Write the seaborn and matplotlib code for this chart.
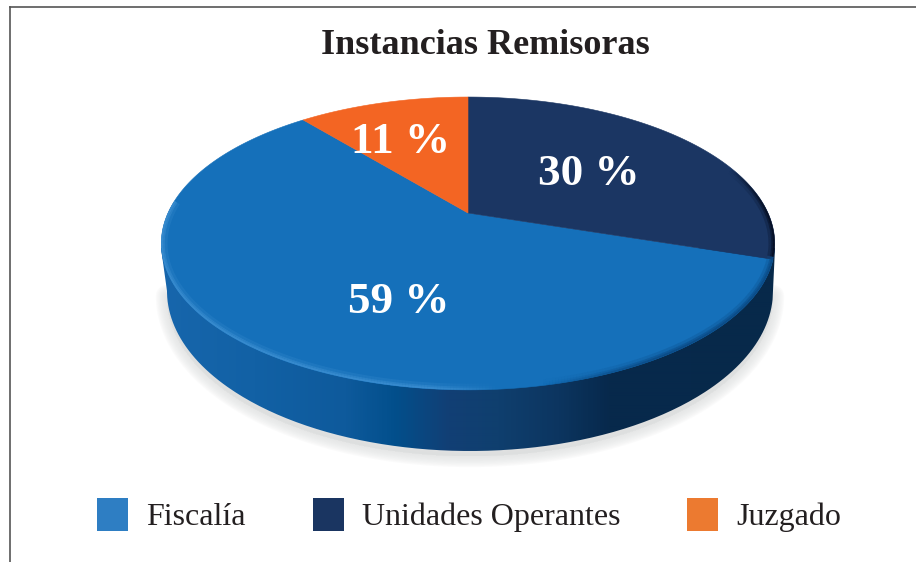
import numpy as np
import matplotlib
matplotlib.use("Agg")
import matplotlib.pyplot as plt
import seaborn as sns
from matplotlib.collections import LineCollection
from matplotlib.colors import LinearSegmentedColormap, to_rgb
from matplotlib.patches import Patch, PathPatch, Polygon
from matplotlib.path import Path
from matplotlib.transforms import Affine2D

title = "Instancias Remisoras"
categories = ["Fiscalía", "Unidades Operantes", "Juzgado"]
values = [59, 30, 11]
top_colors = ["#1570BA", "#1B3663", "#F36523"]
legend_colors = ["#2E7EC3", "#1A3561", "#EC7A30"]
label_xy = [(399, 302), (589, 174), (401, 142)]
wall_stops = [(0.00, "#1766AC"), (0.15, "#1261A5"), (0.30, "#0E5A9C"), (0.38, "#024F8C"),
              (0.47, "#123F75"), (0.55, "#0F3F6E"), (0.65, "#0C3560"), (0.73, "#07294C"),
              (1.00, "#07294A")]

W, H = 916, 562
sns.set_theme(style="white")
plt.rcParams["font.family"] = ["Liberation Serif", "DejaVu Serif"]
ink = "#231F20"

fig = plt.figure(figsize=(W / 100, H / 100), dpi=100, facecolor="white")
ax = fig.add_axes([10 / W, 0, 1 - 10 / W, 1 - 7 / H])

# perspective view of the unit disc
cx, cy, A, B, k = 468.0, 213.0, 300.0, 140.1, 0.208


def warp(xy):
    xy = np.asarray(xy, float)
    d = 1 + k * xy[:, 1]
    return np.column_stack([cx + A * xy[:, 0] / d, cy - B * xy[:, 1] / d])


# soft shadow and side wall
tt = np.linspace(0, np.pi, 240)
ex, ey = 470 + 303 * np.cos(tt), 291 + 160 * np.sin(tt)
wall = np.vstack([[[775, 248]], np.column_stack([ex, ey]), [[161, 248]]])
for lw in np.arange(16, 0, -2.0):
    ax.fill(ex, ey + 5, fc="#DDDFDF", ec="#DDDFDF", lw=lw, alpha=0.13, zorder=1, joinstyle="round")

cmap = LinearSegmentedColormap.from_list("wall", wall_stops)
im = ax.imshow(np.linspace(0, 1, 614)[None, :], cmap=cmap, extent=(161, 775, 460, 240),
               aspect="auto", zorder=2, interpolation="bilinear")
wall_patch = PathPatch(Path(wall), transform=ax.transData, fc="none", ec="none")
ax.add_patch(wall_patch)
im.set_clip_path(wall_patch)

# top surface: pie wedges seen in perspective
start = 90 + 360 * values[2] / sum(values)
wedges, _ = ax.pie(values, startangle=start, colors=top_colors)
scale = 2000.0
for w, col in zip(wedges, top_colors):
    poly = w.get_path().transformed(Affine2D().scale(scale)).to_polygons()[0] / scale
    w.remove()
    ax.add_patch(Polygon(warp(poly), closed=True, fc=col, ec=col, lw=0.4, zorder=3))

# bevel along the rim of the top surface
a = np.radians(np.linspace(175, 420, 500))
rim = warp(np.column_stack([np.cos(a), np.sin(a)]))
aa = np.linspace(0, 2 * np.pi, 400)
disc = warp(np.column_stack([np.cos(aa), np.sin(aa)]))
disc_patch = Polygon(disc, closed=True, transform=ax.transData, fc="none", ec="none")
ax.add_patch(disc_patch)
s = (rim[:, 0] - 161) / 614
upper = (rim[:, 1] < 258) & (s > 0.5)
light = np.clip((0.55 - s) / 0.12, 0, 1) * (~upper)
dark = np.clip((s - 0.62) / 0.2, 0, 1) * (~upper)
edge = np.clip((s - 0.93) / 0.06, 0, 1) * upper
rgba = np.zeros((len(s) - 1, 4))
c_light, c_dark, c_edge = map(np.array, map(to_rgb, ["#3A8DD0", "#0B4A85", "#050D20"]))
for i in range(len(s) - 1):
    tot = light[i] + dark[i] + edge[i]
    if tot > 0:
        rgba[i, :3] = (light[i] * c_light + dark[i] * c_dark + edge[i] * c_edge) / tot
        rgba[i, 3] = min(tot, 1)
segs = np.stack([rim[:-1], rim[1:]], axis=1)
for lw, al in [(9, 0.25), (5, 0.5), (2.5, 0.8)]:
    col = rgba.copy()
    col[:, 3] *= al
    lc = LineCollection(segs, colors=col, linewidths=lw, zorder=4, capstyle="butt")
    ax.add_collection(lc)
    lc.set_clip_path(disc_patch)

# percentage labels
for v, (x, y) in zip(values, label_xy):
    ax.text(x, y, f"{v} %", color="white", fontsize=32.5, fontweight="bold",
            ha="center", va="center", zorder=5)

ax.text(485, 46, title, color=ink, fontsize=26, fontweight="bold", ha="center", va="center", zorder=5)

handles = [Patch(fc=c, ec="none") for c in legend_colors]
ax.legend(handles, categories, ncol=3, frameon=False, loc="center", bbox_to_anchor=(469, 515),
          bbox_transform=ax.transData, fontsize=23, labelcolor=ink, handlelength=0.97,
          handleheight=1.215, handletextpad=0.565, columnspacing=2.09, borderpad=0, borderaxespad=0)

ax.set_xlim(10, W)
ax.set_ylim(H, 7)
ax.set_aspect("auto")
ax.set_frame_on(True)
ax.set_xticks([])
ax.set_yticks([])
for side, sp in ax.spines.items():
    sp.set_visible(side in ("left", "top"))
    sp.set_color("#555555")
    sp.set_linewidth(1.2)

fig.savefig("out.png", dpi=100, facecolor="white")
